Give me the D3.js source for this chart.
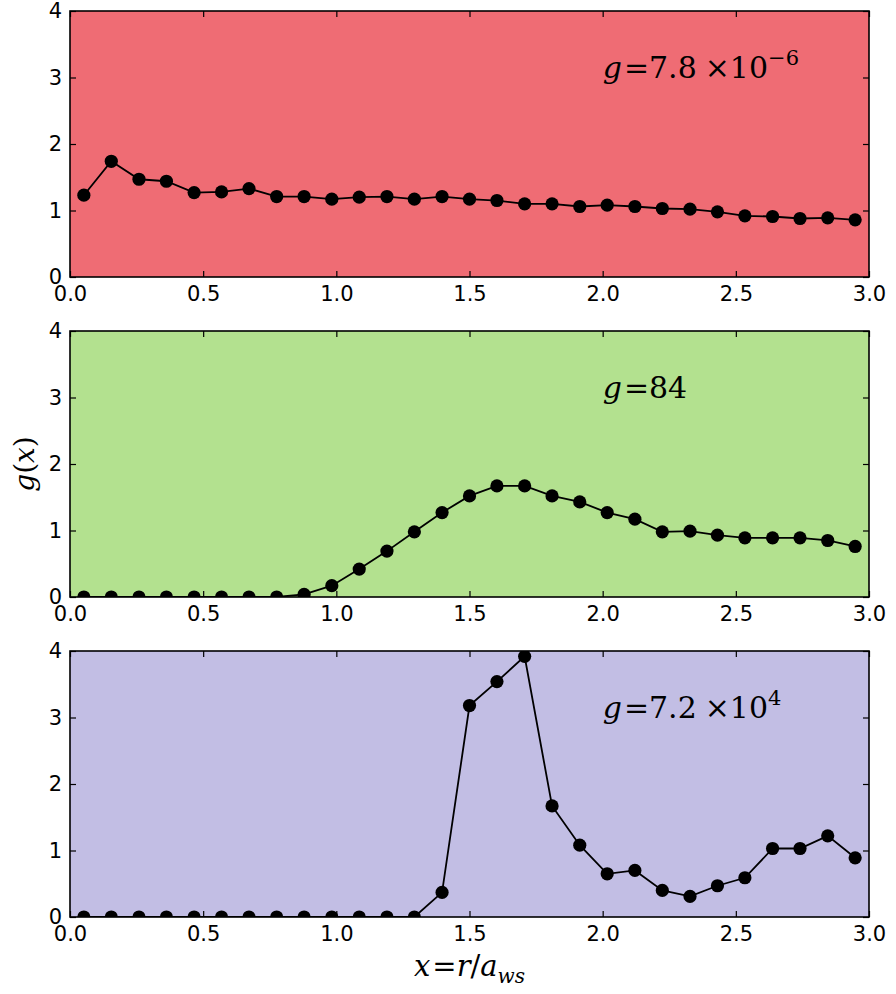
<!DOCTYPE html>
<html>
<head>
<meta charset="utf-8">
<script src="https://cdn.jsdelivr.net/npm/d3@7/dist/d3.min.js"></script>
<style>
  body { margin: 0; background: #fff; }
  svg { display: block; }
</style>
</head>
<body>
<svg id="chart" width="896" height="994"></svg>
<script>
// ---- data ----
const xValues = [0.052, 0.155, 0.259, 0.362, 0.466, 0.569, 0.672, 0.776, 0.879, 0.983,
                 1.086, 1.190, 1.293, 1.397, 1.500, 1.603, 1.707, 1.810, 1.914, 2.017,
                 2.121, 2.224, 2.328, 2.431, 2.534, 2.638, 2.741, 2.845, 2.948];
const seriesLow = [1.23, 1.74, 1.47, 1.44, 1.27, 1.28, 1.33, 1.21, 1.21, 1.17,
                   1.20, 1.21, 1.17, 1.21, 1.17, 1.15, 1.10, 1.10, 1.06, 1.08,
                   1.06, 1.03, 1.02, 0.98, 0.92, 0.91, 0.88, 0.89, 0.86];
const seriesMid = [0, 0, 0, 0, 0, 0, 0, 0, 0.04, 0.17,
                   0.42, 0.69, 0.98, 1.27, 1.52, 1.67, 1.67, 1.52, 1.43, 1.27,
                   1.17, 0.98, 0.99, 0.93, 0.89, 0.89, 0.89, 0.85, 0.76];
const seriesHigh = [0, 0, 0, 0, 0, 0, 0, 0, 0, 0,
                    0, 0, 0, 0.37, 3.18, 3.54, 3.92, 1.67, 1.08, 0.65,
                    0.70, 0.40, 0.31, 0.47, 0.59, 1.03, 1.03, 1.22, 0.89];
const xTicks = [0.0, 0.5, 1.0, 1.5, 2.0, 2.5, 3.0];
const yTicks = [0, 1, 2, 3, 4];
const panelColors = ["#ef6c74", "#b3e18f", "#c2bee4"];
const labelBase = ["7.8", "84", "7.2"];
const labelExp = ["\u22126", null, "4"];

const panels = [
  { values: seriesLow, color: panelColors[0], base: labelBase[0], exp: labelExp[0] },
  { values: seriesMid, color: panelColors[1], base: labelBase[1], exp: labelExp[1] },
  { values: seriesHigh, color: panelColors[2], base: labelBase[2], exp: labelExp[2] }
];

// ---- layout ----
const svg = d3.select("#chart");
const left = 70, right = 869, ph = 266;
const tops = [11, 331, 651];
const x = d3.scaleLinear().domain([0, 3]).range([left, right]);
const tickFont = "'DejaVu Sans', sans-serif";
const mathFont = "'DejaVu Serif', 'Liberation Serif', serif";
const tickLen = 6;

panels.forEach((p, i) => {
  const top = tops[i];
  const y = d3.scaleLinear().domain([0, 4]).range([top + ph, top]);
  const g = svg.append("g");

  g.append("rect").attr("x", left).attr("y", top)
    .attr("width", right - left).attr("height", ph).attr("fill", p.color);

  const clipId = "clip" + i;
  svg.append("clipPath").attr("id", clipId).append("rect")
    .attr("x", left).attr("y", top).attr("width", right - left).attr("height", ph);

  const axB = g.append("g").attr("transform", `translate(0,${top + ph})`)
    .call(d3.axisBottom(x).tickValues(xTicks).tickFormat(d3.format(".1f"))
      .tickSizeInner(-tickLen).tickSizeOuter(0).tickPadding(9));
  const axT = g.append("g").attr("transform", `translate(0,${top})`)
    .call(d3.axisTop(x).tickValues(xTicks).tickFormat("")
      .tickSizeInner(-tickLen).tickSizeOuter(0));
  const axL = g.append("g").attr("transform", `translate(${left},0)`)
    .call(d3.axisLeft(y).tickValues(yTicks).tickFormat(d3.format("d"))
      .tickSizeInner(-tickLen).tickSizeOuter(0).tickPadding(8));
  const axR = g.append("g").attr("transform", `translate(${right},0)`)
    .call(d3.axisRight(y).tickValues(yTicks).tickFormat("")
      .tickSizeInner(-tickLen).tickSizeOuter(0));
  [axB, axT, axL, axR].forEach(a => {
    a.select(".domain").remove();
    a.selectAll("line").attr("stroke", "#000").attr("stroke-width", 1.2);
    a.selectAll("text").attr("fill", "#000")
      .style("font-family", tickFont).style("font-size", "21px");
  });
  axB.selectAll("text").attr("dy", "0.71em");

  const pts = xValues.map((xv, k) => [xv, p.values[k]]);
  const plot = g.append("g").attr("clip-path", `url(#${clipId})`);
  plot.append("path").datum(pts)
    .attr("fill", "none").attr("stroke", "#000").attr("stroke-width", 1.8)
    .attr("d", d3.line().x(d => x(d[0])).y(d => y(d[1])));
  plot.selectAll("circle").data(pts).enter().append("circle")
    .attr("cx", d => x(d[0])).attr("cy", d => y(d[1])).attr("r", 6.6)
    .attr("fill", "#000");

  g.append("rect").attr("x", left).attr("y", top)
    .attr("width", right - left).attr("height", ph)
    .attr("fill", "none").attr("stroke", "#000").attr("stroke-width", 1.6);

  const t = g.append("text").attr("x", x(2.0)).attr("y", y(3.0))
    .style("font-family", mathFont).style("font-size", "30px").attr("fill", "#000");
  t.append("tspan").style("font-style", "italic").text("g");
  t.append("tspan").attr("dx", 2).text("=" + p.base);
  if (p.exp) {
    t.append("tspan").attr("dx", 8).text("\u00d710");
    t.append("tspan").attr("dy", -13).style("font-size", "21px").text(p.exp);
  }
});

svg.append("text")
  .attr("transform", `translate(34,${tops[1] + ph / 2}) rotate(-90)`)
  .attr("text-anchor", "middle")
  .style("font-family", mathFont).style("font-size", "28px")
  .html('<tspan font-style="italic">g</tspan>(<tspan font-style="italic">x</tspan>)');

const xl = svg.append("text")
  .attr("x", (left + right) / 2).attr("y", 976)
  .attr("text-anchor", "middle")
  .style("font-family", mathFont).style("font-size", "29px");
xl.append("tspan").style("font-style", "italic").text("x");
xl.append("tspan").attr("dx", 2).text("=");
xl.append("tspan").style("font-style", "italic").text("r");
xl.append("tspan").text("/");
xl.append("tspan").style("font-style", "italic").text("a");
xl.append("tspan").attr("dy", 7).style("font-size", "20px").style("font-style", "italic").text("ws");
</script>
</body>
</html>
